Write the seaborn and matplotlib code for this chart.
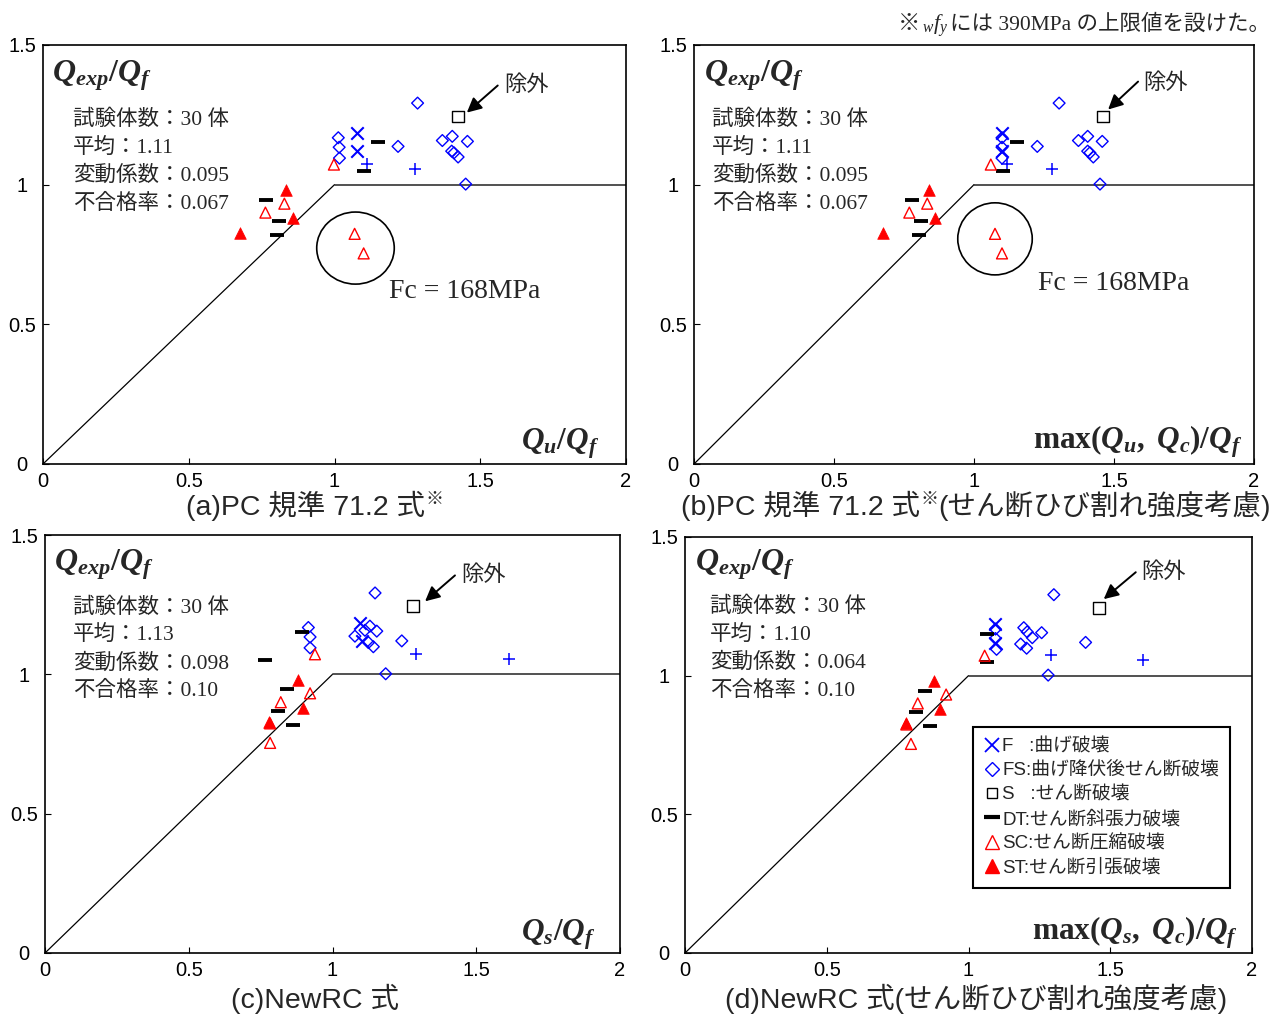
import matplotlib
matplotlib.use("Agg")
import matplotlib.pyplot as plt
import seaborn as sns
import numpy as np
import pandas as pd
from matplotlib.patches import Ellipse
from matplotlib.offsetbox import TextArea, HPacker, AnchoredOffsetbox
from matplotlib.lines import Line2D

# ---------------- data ----------------
modes = ["F", "F",
         "FS", "FS", "FS", "FS", "FS", "FS", "FS", "FS", "FS", "FS", "FS", "FS",
         "S",
         "DT", "DT", "DT", "DT", "DT",
         "SC", "SC", "SC", "SC", "SC",
         "ST", "ST", "ST",
         "P", "P"]
# Qexp/Qf (common to all panels)
q_exp_ratio = [1.185, 1.119,
               1.292, 1.168, 1.134, 1.095, 1.137, 1.158, 1.173, 1.155, 1.120, 1.114, 1.099, 1.002,
               1.244,
               1.151, 1.050, 0.946, 0.869, 0.819,
               1.072, 0.932, 0.900, 0.824, 0.754,
               0.980, 0.879, 0.828,
               1.073, 1.056]
# x values per panel
x_a = [1.076, 1.076,
       1.285, 1.013, 1.016, 1.017, 1.218, 1.370, 1.404, 1.456, 1.402, 1.410, 1.424, 1.450,
       1.423,
       1.149, 1.101, 0.765, 0.811, 0.803,
       0.998, 0.828, 0.763, 1.069, 1.100,
       0.834, 0.857, 0.675,
       1.112, 1.275]
x_b = [1.099, 1.099,
       1.304, 1.100, 1.100, 1.100, 1.226, 1.373, 1.406, 1.458, 1.406, 1.414, 1.426, 1.450,
       1.462,
       1.152, 1.103, 0.777, 0.811, 0.804,
       1.060, 0.833, 0.769, 1.075, 1.100,
       0.839, 0.861, 0.676,
       1.117, 1.277]
x_c = [1.096, 1.101,
       1.148, 0.916, 0.922, 0.922, 1.078, 1.113, 1.130, 1.154, 1.241, 1.125, 1.142, 1.185,
       1.281,
       0.893, 0.765, 0.843, 0.809, 0.861,
       0.939, 0.922, 0.820, 0.783, 0.783,
       0.879, 0.899, 0.780,
       1.289, 1.614]
x_d = [1.095, 1.095,
       1.301, 1.095, 1.095, 1.099, 1.225, 1.207, 1.195, 1.258, 1.413, 1.184, 1.205, 1.281,
       1.460,
       1.066, 1.066, 0.845, 0.815, 0.863,
       1.057, 0.921, 0.821, 0.781, 0.797,
       0.880, 0.899, 0.781,
       1.290, 1.614]

panel_keys = ["a", "b", "c", "d"]
panel_x = {"a": x_a, "b": x_b, "c": x_c, "d": x_d}
x_labels = {
    "a": r"$\mathbf{Q_u}\mathrm{/}\mathbf{Q_f}$",
    "b": r"$\mathrm{max(}\mathbf{Q_u}\mathrm{,\ }\mathbf{Q_c}\mathrm{)/}\mathbf{Q_f}$",
    "c": r"$\mathbf{Q_s}\mathrm{/}\mathbf{Q_f}$",
    "d": r"$\mathrm{max(}\mathbf{Q_s}\mathrm{,\ }\mathbf{Q_c}\mathrm{)/}\mathbf{Q_f}$",
}
titles = {
    "a": ("(a)PC 規準 71.2 式", "※", ""),
    "b": ("(b)PC 規準 71.2 式", "※", "(せん断ひび割れ強度考慮)"),
    "c": ("(c)NewRC 式", "", ""),
    "d": ("(d)NewRC 式(せん断ひび割れ強度考慮)", "", ""),
}
stat_labels = ["試験体数：", "平均：", "変動係数：", "不合格率："]
stat_values = {
    "a": ["30 体", "1.11", "0.095", "0.067"],
    "b": ["30 体", "1.11", "0.095", "0.067"],
    "c": ["30 体", "1.13", "0.098", "0.10"],
    "d": ["30 体", "1.10", "0.064", "0.10"],
}
legend_labels = {"F": "F   :曲げ破壊", "FS": "FS:曲げ降伏後せん断破壊", "S": "S   :せん断破壊",
                 "DT": "DT:せん断斜張力破壊", "SC": "SC:せん断圧縮破壊", "ST": "ST:せん断引張破壊"}
xticks = [0, 0.5, 1, 1.5, 2]
xtick_labels = ["0", "0.5", "1", "1.5", "2"]
yticks = [0, 0.5, 1, 1.5]
ytick_labels = ["0", "0.5", "1", "1.5"]

# ---------------- layout / style ----------------
sns.set_style("white")
plt.rcParams['font.family'] = ['Liberation Sans', 'Noto Sans CJK JP', 'DejaVu Sans']
plt.rcParams['mathtext.fontset'] = 'custom'
plt.rcParams['mathtext.bf'] = 'Liberation Serif:bold:italic'
plt.rcParams['mathtext.rm'] = 'Liberation Serif:bold'
plt.rcParams['mathtext.it'] = 'Liberation Serif:italic'
plt.rcParams['axes.edgecolor'] = 'black'

SERIF_JP = ['Liberation Serif', 'Noto Sans CJK JP']
SANS_JP = ['Liberation Sans', 'Noto Sans CJK JP']

styles = {
    "F": dict(marker="x", s=80, color="blue", linewidth=1.5),
    "FS": dict(marker="D", s=36, facecolor="none", edgecolor="blue", linewidth=1.0),
    "S": dict(marker="s", s=72, facecolor="none", edgecolor="black", linewidth=1.0),
    "DT": dict(marker="_", s=90, color="black", linewidth=2.8),
    "SC": dict(marker="^", s=62, facecolor="none", edgecolor="red", linewidth=1.0),
    "ST": dict(marker="^", s=70, color="red", edgecolor="red", linewidth=0.5),
    "P": dict(marker="+", s=70, color="blue", linewidth=1.1),
}

axes_rect = {
    "a": [43 / 1285, 1 - 464 / 1017, 583 / 1285, 419 / 1017],
    "b": [694 / 1285, 1 - 464 / 1017, 560 / 1285, 419 / 1017],
    "c": [45 / 1285, 1 - 953 / 1017, 575 / 1285, 418 / 1017],
    "d": [685 / 1285, 1 - 953 / 1017, 567 / 1285, 416 / 1017],
}
title_pos = {"a": (315 / 1285, 1 - 506 / 1017), "b": (976 / 1285, 1 - 506 / 1017),
             "c": (315 / 1285, 1 - 999 / 1017), "d": (976 / 1285, 1 - 999 / 1017)}
qlabel_pos = {"a": (0.0155, 0.914), "b": (0.018, 0.914), "c": (0.0157, 0.914), "d": (0.018, 0.92)}
xlabel_pos = {"a": (0.955, 0.035), "b": (0.979, 0.038), "c": (0.958, 0.03), "d": (0.975, 0.033)}
stat_pos = {"a": (0.103, [1.233, 1.133, 1.032, 0.932]),
            "b": (0.064, [1.233, 1.133, 1.032, 0.932]),
            "c": (0.097, [1.240, 1.140, 1.039, 0.939]),
            "d": (0.088, [1.247, 1.147, 1.047, 0.946])}
arrow_pos = {"a": ((1.560, 1.355), (1.454, 1.258), (1.581, 1.355)),
             "b": ((1.586, 1.369), (1.479, 1.269), (1.604, 1.362)),
             "c": ((1.426, 1.355), (1.322, 1.262), (1.447, 1.355)),
             "d": ((1.590, 1.373), (1.477, 1.276), (1.608, 1.373))}
circle_pos = {"a": (1.072, 0.773), "b": (1.075, 0.806)}
fc_pos = {"a": (1.186, 0.616), "b": (1.229, 0.645)}

fig = plt.figure(figsize=(12.85, 10.17), dpi=100)
fig.patch.set_facecolor("white")

for key in panel_keys:
    ax = fig.add_axes(axes_rect[key])
    df = pd.DataFrame({"x": panel_x[key], "y": q_exp_ratio, "mode": modes})
    # reference line
    ax.plot([0, 1], [0, 1], color="black", lw=0.9)
    ax.plot([1, 2], [1, 1], color="#333333", lw=1.2)
    for m in ["P", "FS", "F", "S", "DT", "SC", "ST"]:
        sub = df[df["mode"] == m]
        sns.scatterplot(data=sub, x="x", y="y", ax=ax, legend=False, zorder=3, **styles[m])
    ax.set_xlim(0, 2)
    ax.set_ylim(0, 1.5)
    ax.set_xticks(xticks)
    ax.set_xticklabels(xtick_labels)
    ax.set_yticks(yticks)
    ax.set_yticklabels(ytick_labels)
    ax.set_xlabel("")
    ax.set_ylabel("")
    ax.tick_params(axis="both", direction="in", length=4, width=0.8, labelsize=14.5,
                   bottom=True, left=True, colors="black")
    ax.tick_params(axis="x", pad=5.5)
    ax.tick_params(axis="y", pad=15)
    for lab in ax.get_yticklabels():
        lab.set_horizontalalignment("center")
    for sp in ax.spines.values():
        sp.set_color("black")
        sp.set_linewidth(1.2)

    ax.text(*qlabel_pos[key], r"$\mathbf{Q_{exp}}\mathrm{/}\mathbf{Q_f}$", transform=ax.transAxes,
            fontsize=23, ha="left", va="baseline")
    ax.text(*xlabel_pos[key], x_labels[key], transform=ax.transAxes,
            fontsize=22.5, ha="right", va="baseline")

    sx, sys_ = stat_pos[key]
    for lab, val, yy in zip(stat_labels, stat_values[key], sys_):
        ax.text(sx, yy, lab + val, family=SERIF_JP, fontsize=15.5, ha="left", va="center")

    tail, head, tpos = arrow_pos[key]
    ax.annotate("", xy=head, xytext=tail,
                arrowprops=dict(arrowstyle="-|>", color="black", lw=1.4, mutation_scale=22,
                                shrinkA=0, shrinkB=0))
    ax.text(*tpos, "除外", family=SERIF_JP, fontsize=16, ha="left", va="center")

    if key in circle_pos:
        ax.add_patch(Ellipse(circle_pos[key], 0.266, 0.258, fill=False, edgecolor="black", lw=1.2))
        ax.text(*fc_pos[key], "Fc = 168MPa", family=["Liberation Serif"], fontsize=20,
                ha="left", va="center")

    main, sup, rest = titles[key]
    children = [TextArea(main, textprops=dict(family=SANS_JP, fontsize=20.5))]
    if sup:
        children.append(TextArea(sup, textprops=dict(family=SANS_JP, fontsize=13)))
    if rest:
        children.append(TextArea(rest, textprops=dict(family=SANS_JP, fontsize=20.5)))
    pack = HPacker(children=children, align="top", pad=0, sep=0)
    ab = AnchoredOffsetbox(loc="center", child=pack, bbox_to_anchor=title_pos[key],
                           bbox_transform=fig.transFigure, frameon=False, pad=0, borderpad=0)
    fig.add_artist(ab)

    if key == "d":
        handles = [
            Line2D([], [], marker="x", linestyle="none", color="blue", markersize=10, markeredgewidth=1.3),
            Line2D([], [], marker="D", linestyle="none", markerfacecolor="none", markeredgecolor="blue",
                   markersize=7, markeredgewidth=1.0),
            Line2D([], [], marker="s", linestyle="none", markerfacecolor="none", markeredgecolor="black",
                   markersize=7, markeredgewidth=1.0),
            Line2D([], [], marker="_", linestyle="none", color="black", markersize=12, markeredgewidth=3),
            Line2D([], [], marker="^", linestyle="none", markerfacecolor="none", markeredgecolor="red",
                   markersize=10, markeredgewidth=1.0),
            Line2D([], [], marker="^", linestyle="none", color="red", markersize=10),
        ]
        labels = [legend_labels[k] for k in ["F", "FS", "S", "DT", "SC", "ST"]]
        leg = ax.legend(handles, labels, loc="upper left", bbox_to_anchor=(0.508, 0.543),
                        borderaxespad=0, frameon=True, fancybox=False, edgecolor="black",
                        framealpha=1, prop=dict(family=SANS_JP, size=13.5), handlelength=0.8,
                        handletextpad=0.15, borderpad=0.6, labelspacing=0.36)
        leg.get_frame().set_linewidth(1.5)

# top-right note
note = HPacker(children=[
    TextArea("※", textprops=dict(family=['Noto Sans CJK JP'], fontsize=16, fontweight="bold")),
    TextArea(r"$_{w}f_{y}$", textprops=dict(fontsize=16)),
    TextArea("には 390MPa の上限値を設けた。", textprops=dict(family=SERIF_JP, fontsize=15.5)),
], align="baseline", pad=0, sep=1)
fig.add_artist(AnchoredOffsetbox(loc="center right", child=note, bbox_to_anchor=(0.988, 0.975),
                                 bbox_transform=fig.transFigure, frameon=False, pad=0, borderpad=0))

fig.savefig("out.png", dpi=100, facecolor="white")
